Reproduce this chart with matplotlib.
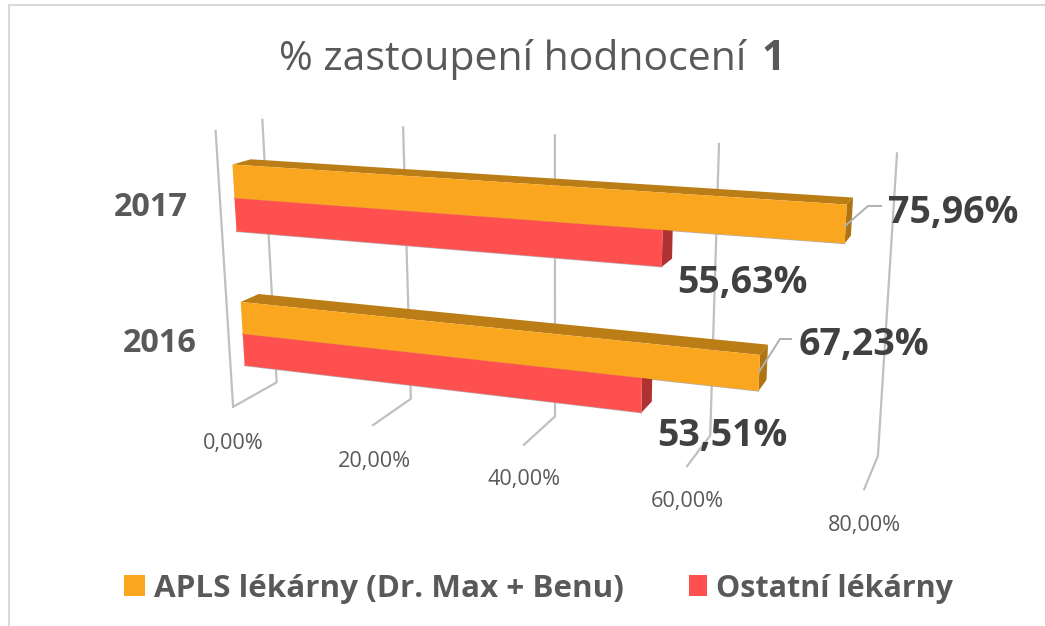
import numpy as np
import matplotlib
matplotlib.use('Agg')
import matplotlib.pyplot as plt
from matplotlib.patches import Polygon, Rectangle

plt.rcParams['font.family'] = ['Open Sans', 'DejaVu Sans']

# data
years = ['2016', '2017']
apls = [67.23, 75.96]
ostatni = [53.51, 55.63]
ticks = [0, 20, 40, 60, 80]
tick_labels = ['0,00%', '20,00%', '40,00%', '60,00%', '80,00%']
apls_labels = ['67,23%', '75,96%']
ostatni_labels = ['53,51%', '55,63%']

ORANGE = ('#FAA61F', '#BB7E17', '#AE7414')
RED = ('#FF5050', '#C04040', '#AE3232')
GRID = '#c0c0c0'

# camera of the 3d chart: (value, height, depth) -> picture pixel, fitted on the box corners
world = np.array([[0, 0, 0], [20, 0, 0], [40, 0, 0], [60, 0, 0], [80, 0, 0],
                  [0, 0, 1], [20, 0, 1], [40, 0, 1], [60, 0, 1], [80, 0, 1],
                  [0, 1, 1], [20, 1, 1], [40, 1, 1], [60, 1, 1], [80, 1, 1],
                  [0, 1, 0]], dtype=float)
pixel = np.array([[233, 407], [373, 425], [523, 445], [688, 466], [864, 489],
                  [277, 382], [411, 398], [555, 418], [710, 436], [878, 455],
                  [262, 120], [403, 127], [555, 135], [719, 145], [897, 153],
                  [216, 131]], dtype=float)
A, b = [], []
for (v, h, d), (px, py) in zip(world, pixel):
    A.append([v, h, d, 1, 0, 0, 0, 0, -px * v, -px * h, -px * d])
    A.append([0, 0, 0, 0, v, h, d, 1, -py * v, -py * h, -py * d])
    b += [px, py]
cam = np.append(np.linalg.lstsq(np.array(A), np.array(b), rcond=None)[0], 1).reshape(3, 4)


def proj(v, h, d):
    x, y, w = cam @ np.array([v, h, d, 1.0])
    return x / w, y / w


fig = plt.figure(figsize=(10.45, 6.26), dpi=100)
ax = fig.add_axes([0, 0, 1, 1])
ax.set_xlim(0, 1045)
ax.set_ylim(626, 0)
ax.axis('off')

# chart frame
ax.plot([9, 9, 1045], [626, 5, 5], color='#d9d9d9', lw=1.5)

# grid
ax.plot(*zip(proj(0, 1, 0), proj(0, 0, 0)), color=GRID, lw=1.6, zorder=1)
for t in ticks:
    ax.plot(*zip(proj(t, 1, 1), proj(t, 0, 1), proj(t, 0, 0)), color=GRID, lw=1.6, zorder=1)


def box(val, h0, h1, colors, z):
    d0, d1 = 0.3, 0.7
    front = [proj(0, h0, d0), proj(val, h0, d0), proj(val, h1, d0), proj(0, h1, d0)]
    top = [proj(0, h1, d0), proj(val, h1, d0), proj(val, h1, d1), proj(0, h1, d1)]
    side = [proj(val, h0, d0), proj(val, h1, d0), proj(val, h1, d1), proj(val, h0, d1)]
    ax.add_patch(Polygon(top, fc=colors[1], ec='none', zorder=z))
    ax.add_patch(Polygon(side, fc=colors[2], ec='none', zorder=z))
    ax.add_patch(Polygon(front, fc=colors[0], ec='none', zorder=z + 0.1))
    # soft grey shadow under the bar
    ax.plot(*zip(front[0], front[1]), color='#b0b0b0', lw=1, zorder=1.5)


bar_h = 0.12
for i in range(2):
    mid = 0.25 + 0.5 * i
    box(ostatni[i], mid - bar_h, mid, RED, 2 + i)
    box(apls[i], mid, mid + bar_h, ORANGE, 2.5 + i)

# leader lines
ax.plot([845, 868, 881], [226, 206, 206], color='#b0b0b0', lw=1.4, zorder=5)
ax.plot([759, 780, 791], [372, 339, 339], color='#b0b0b0', lw=1.4, zorder=5)

# text
ax.text(279, 59, '% zastoupení hodnocení', fontsize=29.5, color='#595959', ha='left', va='center')
ax.text(773, 59, '1', fontsize=29.5, fontweight='bold', color='#595959', ha='center', va='center')

for i, (x, y) in enumerate([(863.5, 345), (953.5, 213)]):
    ax.text(x, y, apls_labels[i], fontsize=27, fontweight='bold', color='#404040', ha='center', va='center', zorder=6)
for i, (x, y) in enumerate([(722, 436), (742, 283)]):
    ax.text(x, y, ostatni_labels[i], fontsize=27, fontweight='bold', color='#404040', ha='center', va='center', zorder=6)

for lab, (x, y) in zip(tick_labels, [(233, 443), (374, 462), (524, 480), (687, 502), (864, 526)]):
    ax.text(x, y, lab, fontsize=15.6, color='#595959', ha='center', va='center')

for lab, (x, y) in zip(years, [(160, 344), (151, 207)]):
    ax.text(x, y, lab, fontsize=23.3, fontweight='bold', color='#595959', ha='center', va='center')

# legend
ax.add_patch(Rectangle((124, 575), 21, 21, fc=ORANGE[0], ec='none'))
ax.text(154, 589, 'APLS lékárny (Dr. Max + Benu)', fontsize=22.6, fontweight='bold', color='#595959', va='center')
ax.add_patch(Rectangle((689, 575), 18, 21, fc=RED[0], ec='none'))
ax.text(716, 589, 'Ostatní lékárny', fontsize=22, fontweight='bold', color='#595959', va='center')

fig.savefig('out.png', dpi=100)
